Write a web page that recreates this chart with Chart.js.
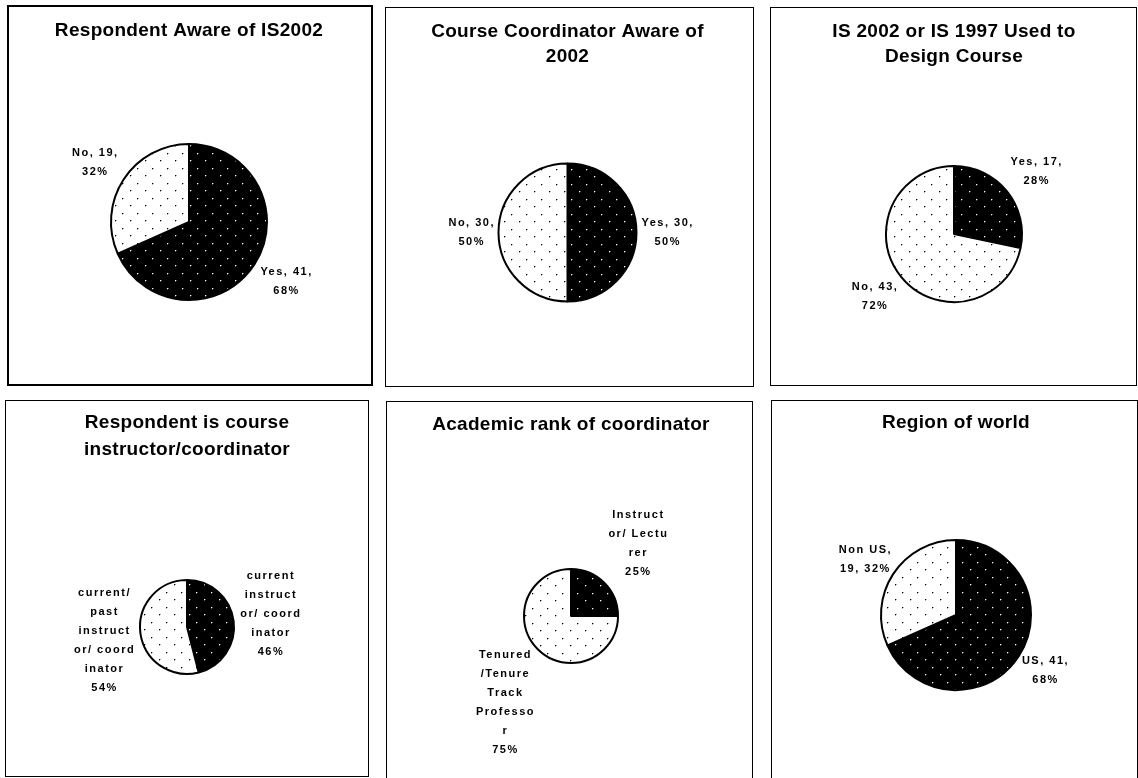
<!DOCTYPE html>
<html>
<head>
<meta charset="utf-8">
<script src="https://cdn.jsdelivr.net/npm/chart.js@4.4.1/dist/chart.umd.min.js"></script>
<style>
  html, body { margin: 0; padding: 0; background: #fff; }
  #page { position: relative; width: 1138px; height: 778px; overflow: hidden; background: #fff; }
  .panel { position: absolute; box-sizing: border-box; overflow: hidden; background: #fff; border-style: solid; border-color: #000; }
  .panel canvas { position: absolute; top: 0; }
</style>
</head>
<body>
<div id="page"></div>
<script>
// ---- Survey data: one pie per question ----
const awareCategories = ['Yes', 'No'];
const awareCounts = [41, 19];

const coordAwareCategories = ['Yes', 'No'];
const coordAwareCounts = [30, 30];

const usedCategories = ['Yes', 'No'];
const usedCounts = [17, 43];

const roleCategories = [
  ['current', 'instruct', 'or/ coord', 'inator'],
  ['current/', 'past', 'instruct', 'or/ coord', 'inator']
];
const rolePercents = [46, 54];

const rankCategories = [
  ['Instruct', 'or/ Lectu', 'rer'],
  ['Tenured', '/Tenure', 'Track', 'Professo', 'r']
];
const rankPercents = [25, 75];

const regionCategories = ['US', 'Non US'];
const regionCounts = [41, 19];

const chartTitles = [
  ['Respondent Aware of IS2002'],
  ['Course Coordinator Aware of', '2002'],
  ['IS 2002 or IS 1997 Used to', 'Design Course'],
  ['Respondent is course', 'instructor/coordinator'],
  ['Academic rank of coordinator'],
  ['Region of world']
];

// ---- Panel geometry (page pixels) ----
const FONT = '"Liberation Sans", Arial, Helvetica, sans-serif';
const panels = [
  { box: [7, 5, 373, 386],     border: 2, cx: 189,   cy: 222,   r: 78, titleY: 31,  titleLH: 25,   gap: 12, mode: 'count' },
  { box: [385, 7, 754, 387],   border: 1, cx: 567.5, cy: 232.5, r: 69, titleY: 32,  titleLH: 25,   gap: 5,  mode: 'count' },
  { box: [770, 7, 1137, 386],  border: 1, cx: 954,   cy: 234,   r: 68, titleY: 32,  titleLH: 25,   gap: 12, mode: 'count' },
  { box: [5, 400, 369, 777],   border: 1, cx: 187,   cy: 627,   r: 47, titleY: 423, titleLH: 26.5, gap: 7,  mode: 'lines' },
  { box: [386, 401, 753, 800], border: 1, cx: 571,   cy: 616,   r: 47, titleY: 425, titleLH: 25,   gap: 18, mode: 'lines' },
  { box: [771, 400, 1138, 800],border: 1, cx: 956,   cy: 615,   r: 75, titleY: 423, titleLH: 25,   gap: 8,  mode: 'count' }
];

const series = [
  { labels: awareCategories, data: awareCounts },
  { labels: coordAwareCategories, data: coordAwareCounts },
  { labels: usedCategories, data: usedCounts },
  { labels: roleCategories, data: rolePercents },
  { labels: rankCategories, data: rankPercents },
  { labels: regionCategories, data: regionCounts }
];

// Dotted fills: black with light dots, white with dark dots
function dotPattern(bg, dot, halo) {
  const c = document.createElement('canvas');
  c.width = 15; c.height = 15;
  const g = c.getContext('2d');
  g.fillStyle = bg;
  g.fillRect(0, 0, 15, 15);
  [[3, 3], [10, 11]].forEach(([x, y]) => {
    g.fillStyle = halo;
    g.fillRect(x + 1, y, 1, 1);
    g.fillRect(x, y + 1, 1, 1);
    g.fillStyle = dot;
    g.fillRect(x, y, 1, 1);
  });
  return g.createPattern(c, 'repeat');
}
const darkFill = dotPattern('#000', '#ffffff', '#555');
const lightFill = dotPattern('#fff', '#000', '#aaa');

function wrapWords(ctx, text, maxW) {
  const words = text.split(' ');
  const lines = [];
  let cur = '';
  for (const w of words) {
    const t = cur ? cur + ' ' + w : w;
    if (cur && ctx.measureText(t).width > maxW) { lines.push(cur); cur = w; }
    else cur = t;
  }
  if (cur) lines.push(cur);
  return lines;
}

// Letter-spaced title text
const titleSpacing = {
  id: 'titleSpacing',
  beforeDraw(chart) { chart.ctx.letterSpacing = '0.3px'; },
  beforeDatasetsDraw(chart) { chart.ctx.letterSpacing = '0px'; }
};

// Data labels placed outside each slice along its mid angle
const sliceLabels = {
  id: 'sliceLabels',
  afterDatasetsDraw(chart, args, opts) {
    const ctx = chart.ctx;
    const meta = chart.getDatasetMeta(0);
    const ds = chart.data.datasets[0];
    const total = ds.data.reduce((a, b) => a + b, 0);
    const LS = 1.5;
    ctx.save();
    ctx.font = 'bold 11px ' + FONT;
    ctx.letterSpacing = LS + 'px';
    ctx.fillStyle = '#000';
    ctx.textBaseline = 'middle';
    ctx.textAlign = 'left';
    meta.data.forEach((arc, i) => {
      const p = arc.getProps(['x', 'y', 'startAngle', 'endAngle', 'outerRadius'], true);
      const mid = (p.startAngle + p.endAngle) / 2;
      const dx = Math.cos(mid), dy = Math.sin(mid);
      const value = ds.data[i];
      const pct = Math.round(value / total * 100);
      const lines = opts.mode === 'count'
        ? wrapWords(ctx, `${chart.data.labels[i]}, ${value}, ${pct}%`, opts.maxWidth)
        : [...chart.data.labels[i], pct + '%'];
      const widths = lines.map(l => ctx.measureText(l).width - LS);
      const w = Math.max(...widths);
      const h = lines.length * opts.lineHeight;
      const reach = p.outerRadius + opts.gap;
      const bx = p.x + dx * reach + dx * w / 2;
      const by = p.y + dy * reach + dy * h / 2;
      lines.forEach((l, k) => {
        ctx.fillText(l, bx - widths[k] / 2, by - h / 2 + opts.lineHeight * (k + 0.5));
      });
    });
    ctx.restore();
  }
};

const page = document.getElementById('page');

panels.forEach((pn, idx) => {
  const [x0, y0, x1, y1] = pn.box;
  const div = document.createElement('div');
  div.className = 'panel';
  div.style.left = x0 + 'px';
  div.style.top = y0 + 'px';
  div.style.width = (x1 - x0) + 'px';
  div.style.height = (y1 - y0) + 'px';
  div.style.borderWidth = pn.border + 'px';
  page.appendChild(div);

  const innerLeft = x0 + pn.border, innerTop = y0 + pn.border;
  const innerW = x1 - x0 - 2 * pn.border, innerH = y1 - y0 - 2 * pn.border;
  const half = Math.ceil(Math.max(pn.cx - innerLeft, innerLeft + innerW - pn.cx));
  const leftPage = Math.floor(pn.cx - half);
  const Wc = Math.round(2 * (pn.cx - leftPage));
  const Hc = innerH;

  const canvas = document.createElement('canvas');
  canvas.width = Wc; canvas.height = Hc;
  canvas.style.width = Wc + 'px';
  canvas.style.height = Hc + 'px';
  canvas.style.left = (leftPage - innerLeft) + 'px';
  div.appendChild(canvas);

  // vertical placement: title box then pie area centred on cy
  const nLines = chartTitles[idx].length;
  const padTop = (pn.titleY - innerTop) - pn.titleLH / 2;
  const titleBottom = padTop + nLines * pn.titleLH;
  const ly = pn.cy - innerTop;
  const T = 2 * ly - Hc;
  let titlePadBottom = 0, layoutBottom = 0;
  if (T >= titleBottom) titlePadBottom = T - titleBottom;
  else layoutBottom = titleBottom - T;

  const s = series[idx];
  new Chart(canvas, {
    type: 'pie',
    data: {
      labels: s.labels,
      datasets: [{
        data: s.data,
        radius: pn.r,
        backgroundColor: [darkFill, lightFill],
        borderColor: '#000',
        borderWidth: 2,
        hoverOffset: 0
      }]
    },
    options: {
      responsive: false,
      animation: false,
      devicePixelRatio: 1,
      events: [],
      layout: { padding: { top: 0, left: 0, right: 0, bottom: layoutBottom } },
      plugins: {
        legend: { display: false },
        tooltip: { enabled: false },
        title: {
          display: true,
          text: chartTitles[idx],
          color: '#000',
          font: { family: FONT, size: 19, weight: 'bold', lineHeight: pn.titleLH / 19 },
          padding: { top: padTop, bottom: titlePadBottom }
        },
        sliceLabels: { mode: pn.mode, gap: pn.gap, lineHeight: 19, maxWidth: 60 }
      }
    },
    plugins: [titleSpacing, sliceLabels]
  });
});
</script>
</body>
</html>
